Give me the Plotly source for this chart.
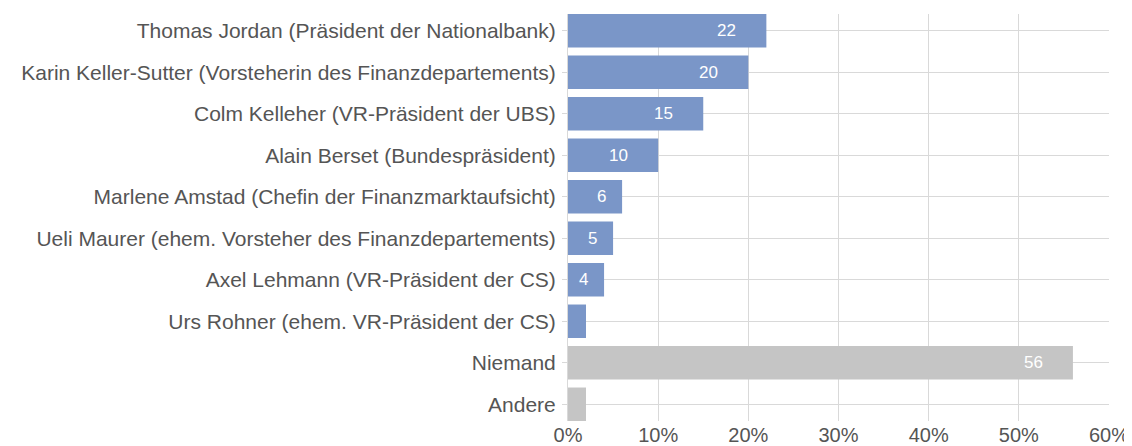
import plotly.graph_objects as go

categories = [
    "Thomas Jordan (Präsident der Nationalbank)",
    "Karin Keller-Sutter (Vorsteherin des Finanzdepartements)",
    "Colm Kelleher (VR-Präsident der UBS)",
    "Alain Berset (Bundespräsident)",
    "Marlene Amstad (Chefin der Finanzmarktaufsicht)",
    "Ueli Maurer (ehem. Vorsteher des Finanzdepartements)",
    "Axel Lehmann (VR-Präsident der CS)",
    "Urs Rohner (ehem. VR-Präsident der CS)",
    "Niemand",
    "Andere",
]
values = [22, 20, 15, 10, 6, 5, 4, 2, 56, 2]
labels = ["22", "20", "15", "10", "6", "5", "4", "", "56", ""]
groups = ["person"] * 8 + ["other"] * 2
x_ticks = [0, 10, 20, 30, 40, 50, 60]
x_tick_labels = ["0%", "10%", "20%", "30%", "40%", "50%", "60%"]

BLUE = "#7a96c8"
GRAY = "#c5c5c5"
colors = [BLUE if g == "person" else GRAY for g in groups]
FONT = "Liberation Sans, Arial, Helvetica, sans-serif"
TEXT = "#555555"
GRID = "#d9d9d9"
BARGAP = 0.193

fig = go.Figure()
fig.add_trace(go.Bar(
    x=values, y=categories, orientation="h",
    marker=dict(color=colors, line=dict(width=0)),
    hoverinfo="x+y",
))

for c, v, lab in zip(categories, values, labels):
    if not lab:
        continue
    fig.add_annotation(
        x=v, y=c, text=lab, showarrow=False,
        xanchor="right", xshift=-(14 * len(lab)),
        font=dict(family=FONT, size=17, color="white"),
    )

half = (1 - BARGAP) / 2
n = len(categories)
fig.update_layout(
    width=1124, height=438,
    margin=dict(l=560, r=23, t=6, b=25),
    paper_bgcolor="white", plot_bgcolor="white",
    showlegend=False,
    bargap=BARGAP,
    font=dict(family=FONT, size=20, color=TEXT),
)
fig.update_xaxes(
    range=[0, 60], tickvals=x_ticks, ticktext=x_tick_labels,
    showgrid=True, gridcolor=GRID, gridwidth=1,
    zeroline=False, showline=False, ticks="",
    tickfont=dict(family=FONT, size=20, color=TEXT),
    automargin=False,
    fixedrange=True,
)
fig.update_yaxes(
    categoryorder="array", categoryarray=categories,
    range=[n - 1 + half, -half],
    showgrid=True, gridcolor=GRID, gridwidth=1,
    showline=True, linecolor=GRID, linewidth=1,
    ticks="outside", ticklen=5, tickcolor=GRID,
    ticklabelstandoff=2,
    tickfont=dict(family=FONT, size=21, color=TEXT),
    automargin=False,
    fixedrange=True,
)

fig.write_html("out.html")
